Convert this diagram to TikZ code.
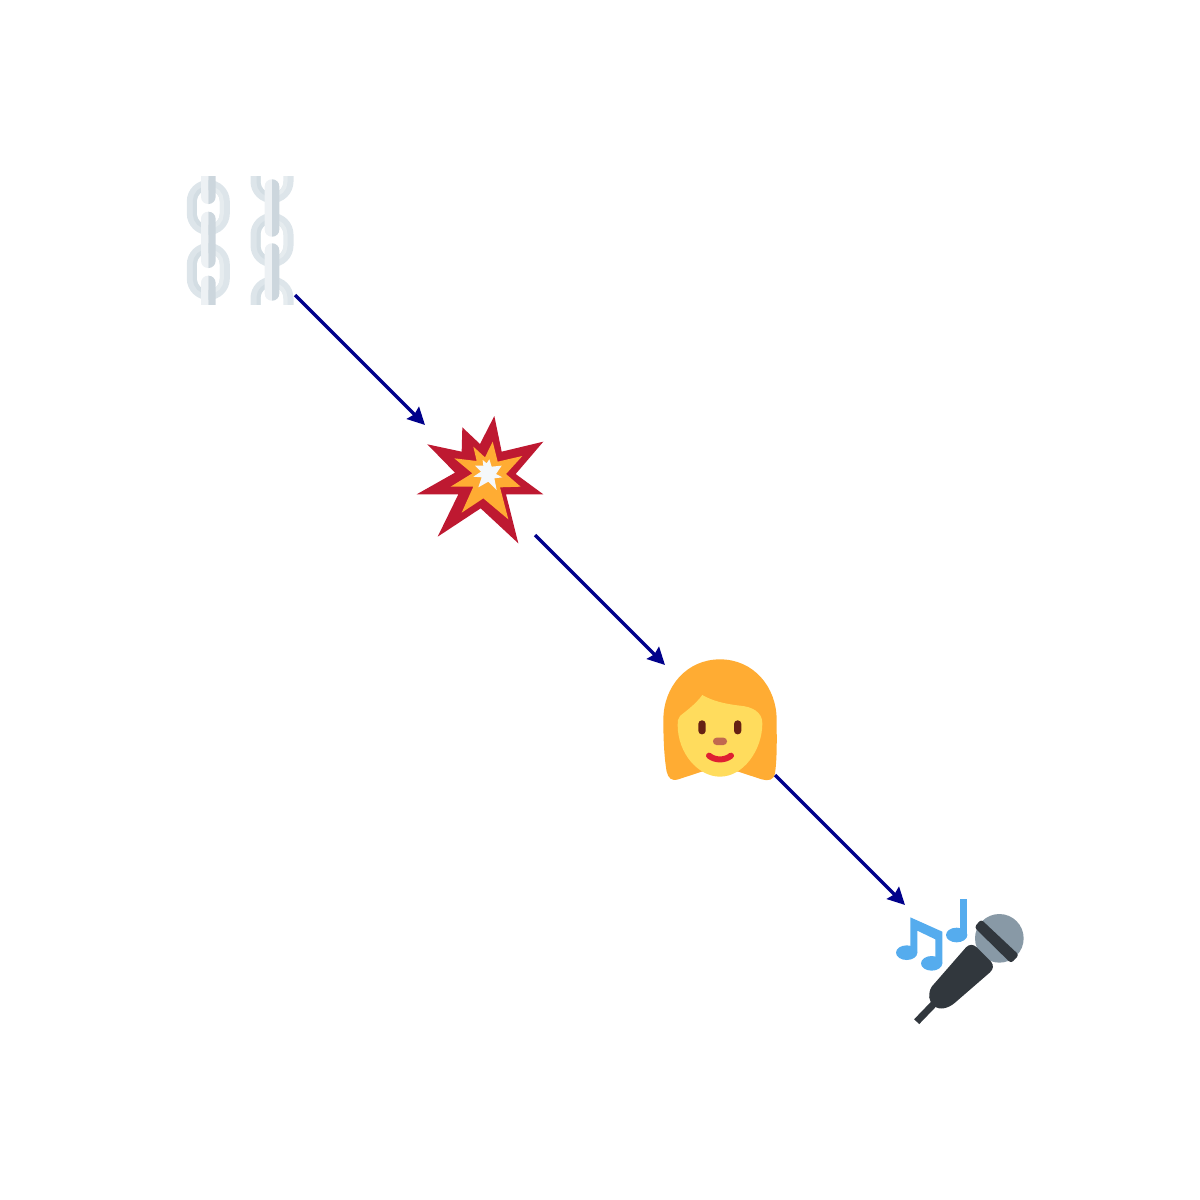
\documentclass[tikz,border=0pt]{standalone}
\usepackage{xcolor}
\usetikzlibrary{arrows.meta}
\definecolor{linkpale}{HTML}{EDF1F4}
\definecolor{sparkwhite}{HTML}{F5F8FA}
\definecolor{ringbase}{HTML}{DDE5EA}
\definecolor{ringdark}{HTML}{D3DDE3}
\definecolor{ringlight}{HTML}{E6ECEF}
\definecolor{linkgrey}{HTML}{CCD6DD}
\definecolor{blastred}{HTML}{BE1931}
\definecolor{blastorange}{HTML}{FFAC33}
\definecolor{hairorange}{HTML}{FFAC33}
\definecolor{faceyellow}{HTML}{FFDC5D}
\definecolor{eyebrown}{HTML}{662113}
\definecolor{nosebrown}{HTML}{C1694F}
\definecolor{mouthred}{HTML}{DF1F32}
\definecolor{noteblue}{HTML}{55ACEE}
\definecolor{micdark}{HTML}{31373D}
\definecolor{micgrey}{HTML}{8899A6}
\definecolor{arrowblue}{HTML}{00008B}
\tikzset{
  slot/.style={minimum size=1.1cm,inner sep=0pt,outer sep=0pt},
  link arrow/.style={draw=arrowblue,line width=0.034cm,-{Stealth[length=0.17cm,width=0.17cm,inset=0.02cm]}}
}
% half of one chain: #1,#2 clip range, #3 ring inner colour, #4 bar colour, #5 centre, #6 ring list, #7 bar list
\newcommand{\halfchain}[7]{
  \begin{scope}
    \clip (#1,176) rectangle (#2,304);
    \foreach \ya/\yb in {#6} {
      \draw [ringbase,line width=0.1cm,rounded corners=0.165cm] (#5-16.5,\ya+5) rectangle (#5+16.5,\yb-5);
      \draw [#3,line width=0.04cm,rounded corners=0.13cm] (#5-13.5,\ya+8) rectangle (#5+13.5,\yb-8);
    }
    \foreach \ya/\yb in {#7}
      \fill [#4,rounded corners=0.07cm] (#5-7.3,\ya) rectangle (#5+7.3,\yb);
  \end{scope}
}
\begin{document}
\begin{tikzpicture}[x=0.01cm,y=-0.01cm]
\useasboundingbox (0,0) rectangle (1200,1200);
\node [slot] (chain) at (240,240) {};
\node [slot] (blast) at (480,480) {};
\node [slot] (woman) at (720,720) {};
\node [slot] (mic) at (960,960) {};
% chains
\halfchain{180}{208.3}{ringdark}{linkpale}{208.3}{180/235,243/300}{150/204,211.7/268,275.7/330}
\halfchain{208.3}{235}{ringlight}{linkgrey}{208.3}{180/235,243/300}{150/204,211.7/268,275.7/330}
\halfchain{245}{272}{ringdark}{linkpale}{272}{150/203,213/267,276.7/330}{179.3/236.7,243.3/300.7}
\halfchain{272}{298}{ringlight}{linkgrey}{272}{150/203,213/267,276.7/330}{179.3/236.7,243.3/300.7}
% explosion
\begin{scope}[shift={(400,400)},scale=1/3]
\fill [blastred] (283,48) -- (305,155) -- (430,125) -- (347,222) -- (430,283) -- (318,283) -- (355,430) -- (242,325) -- (113,410) -- (175,283) -- (50,283) -- (165,218) -- (82,133) -- (185,155) -- (187,82) -- (240,132) -- cycle;
\fill [blastorange] (278,125) -- (293,185) -- (367,168) -- (318,222) -- (362,260) -- (300,262) -- (325,358) -- (250,295) -- (185,338) -- (220,260) -- (152,260) -- (217,220) -- (163,175) -- (230,183) -- (220,140) -- (255,172) -- cycle;
\fill [sparkwhite] (268,178) -- (275,200) -- (305,197) -- (288,222) -- (307,232) -- (283,235) -- (290,270) -- (265,245) -- (235,262) -- (245,232) -- (220,230) -- (243,215) -- (225,197) -- (250,197) -- (248,180) -- (260,190) -- cycle;
\end{scope}
% woman
\begin{scope}[shift={(640,640)},scale=1/3]
\fill [hairorange] (240,58) .. controls (340,58) and (410,140) .. (410,240) .. controls (410,290) and (412,350) .. (405,400) .. controls (402,420) and (385,424) .. (365,418) -- (295,395) -- (185,395) -- (115,418) .. controls (95,424) and (85,415) .. (80,395) .. controls (72,350) and (70,290) .. (70,240) .. controls (70,140) and (140,58) .. (240,58) -- cycle;
\fill [faceyellow] (187,165) .. controls (165,195) and (135,215) .. (120,228) .. controls (113,235) and (113,245) .. (113,255) .. controls (113,340) and (175,410) .. (240,410) .. controls (310,410) and (367,330) .. (367,250) .. controls (367,215) and (335,200) .. (300,197) .. controls (255,192) and (215,182) .. (187,165) -- cycle;
\fill [eyebrown,rounded corners=0.035cm] (175,241) rectangle (197,283);
\fill [eyebrown,rounded corners=0.035cm] (282,241) rectangle (304,283);
\fill [nosebrown,rounded corners=0.035cm] (219,293) rectangle (261,315);
\draw [mouthred,line width=0.06cm,line cap=round] (207,347) .. controls (225,362) and (255,362) .. (273,347);
\end{scope}
% microphone and notes
\begin{scope}[shift={(880,880)},scale=1/3]
\fill [noteblue] (91,112) -- (187,155) -- (187,250) -- (166,250) -- (166,178) -- (112,152) -- (112,218) -- (91,218) -- cycle;
\fill [noteblue] (80,218) circle [x radius=32,y radius=22];
\fill [noteblue] (155,250) circle [x radius=32,y radius=22];
\fill [noteblue] (240,58) rectangle (262,165);
\fill [noteblue] (230,165) circle [x radius=32,y radius=22];
\draw [micdark,line width=0.07cm] (110,425) -- (165,368);
\fill [micgrey] (358,175) circle (73);
\fill [micdark,rounded corners=0.03cm] (303,118) -- (417,225) -- (393,250) -- (283,142) -- cycle;
\fill [micdark] (258,202) .. controls (268,192) and (280,192) .. (290,202) -- (333,245) .. controls (342,255) and (340,268) .. (330,277) -- (225,368) .. controls (205,385) and (180,392) .. (162,378) .. controls (145,365) and (143,340) .. (155,320) -- cycle;
\end{scope}
% connectors
\draw [link arrow] (chain) -- (blast);
\draw [link arrow] (blast) -- (woman);
\draw [link arrow] (woman) -- (mic);
\end{tikzpicture}
\end{document}
